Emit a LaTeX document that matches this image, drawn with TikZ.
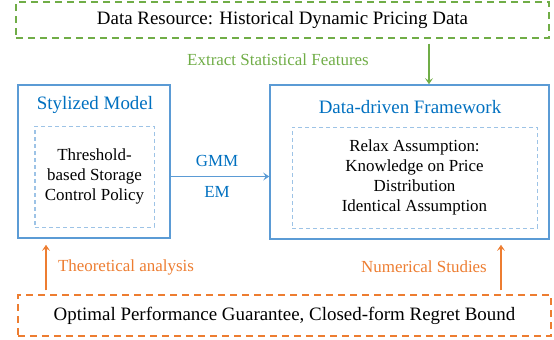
\documentclass[tikz,border=0pt]{standalone}
\usepackage{fontspec}
\setmainfont{Liberation Serif}
\usepackage{xcolor}
\usetikzlibrary{arrows.meta, positioning}

\definecolor{pgreen}{RGB}{112,173,71}
\definecolor{pblue}{RGB}{91,155,213}
\definecolor{pblueText}{RGB}{0,112,192}
\definecolor{plight}{RGB}{157,195,230}
\definecolor{porange}{RGB}{237,125,49}

\newcommand{\bigtxt}{\fontsize{19}{23}\selectfont}
\newcommand{\smalltxt}{\fontsize{17}{20}\selectfont}

\tikzset{
    outerbox/.style={draw=pblue, line width=1.6bp, inner sep=0pt},
    innerbox/.style={draw=plight, line width=1bp, dash pattern=on 4bp off 3bp, inner sep=0pt, align=center, font=\smalltxt},
    sourcebox/.style={draw=pgreen, line width=1.2bp, dash pattern=on 7bp off 5bp, inner sep=0pt, font=\bigtxt},
    resultbox/.style={draw=porange, line width=1.2bp, dash pattern=on 7bp off 5bp, inner sep=0pt, font=\bigtxt},
    boxtitle/.style={text=pblueText, font=\bigtxt},
    lbl/.style={font=\smalltxt}
}

\begin{document}
\begin{tikzpicture}[x=1bp, y=-1bp, >={Stealth[length=6bp, width=8bp, inset=2.5bp]}]
    \useasboundingbox (0,0) rectangle (554,339);

    % boxes
    \node[sourcebox, minimum width=533bp, minimum height=36bp] (source) at (282.5,20)
        {Data Resource: Historical Dynamic Pricing Data};
    \node[outerbox, minimum width=152bp, minimum height=153bp] (stylized) at (94,161.5) {};
    \node[innerbox, minimum width=119bp, minimum height=101bp] (policy) at (94.5,176.5)
        {Threshold-\\based Storage\\Control Policy};
    \node[outerbox, minimum width=279bp, minimum height=154bp] (framework) at (409.5,162) {};
    \node[innerbox, minimum width=245bp, minimum height=101bp] (relax) at (414.5,177.5)
        {Relax Assumption:\\Knowledge on Price\\Distribution\\Identical Assumption};
    \node[resultbox, minimum width=533bp, minimum height=41bp] (result) at (284.5,315.5)
        {Optimal Performance Guarantee, Closed-form Regret Bound};

    \node[boxtitle] (stytitle) at (95,105) {Stylized Model};
    \node[boxtitle] (frametitle) at (410,107) {Data-driven Framework};

    % connectors
    \coordinate (gx) at (429,0);
    \coordinate (lx) at (46,0);
    \coordinate (rx) at (501,0);

    \draw[->, pgreen, line width=1.2bp, shorten <=5bp] (source.south -| gx) -- (framework.north -| gx);
    \node[lbl, text=pgreen] (extract) at (278,60) {Extract Statistical Features};

    \draw[->, pblue, line width=1.2bp] (stylized.east |- policy.center) -- (framework.west |- policy.center);
    \node[lbl, text=pblueText] (gmm) at (217,161) {GMM};
    \node[lbl, text=pblueText] (em) at (217,192) {EM};

    \draw[->, porange, line width=1.2bp, shorten <=4bp, shorten >=6bp] (result.north -| lx) -- (stylized.south -| lx);
    \draw[->, porange, line width=1.2bp, shorten <=4bp, shorten >=5bp] (result.north -| rx) -- (framework.south -| rx);
    \node[lbl, text=porange] (theory) at (126,267) {Theoretical analysis};
    \node[lbl, text=porange] (numeric) at (424,267) {Numerical Studies};
\end{tikzpicture}
\end{document}
